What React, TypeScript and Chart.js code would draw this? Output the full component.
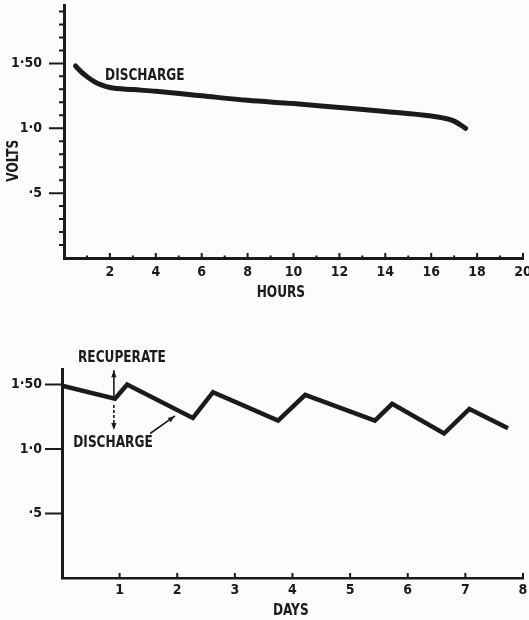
import React, { useEffect, useRef } from 'react';
import { Chart, registerables } from 'chart.js';

Chart.register(...registerables);

// ---------- data ----------
const HOURS = [0.5, 0.75, 1, 1.3, 1.6, 2, 3, 4, 6, 8, 10, 12, 14, 16, 16.5, 17, 17.5];
const DISCHARGE_VOLTS = [1.48, 1.435, 1.398, 1.362, 1.336, 1.314, 1.298, 1.285, 1.25, 1.215, 1.19, 1.16, 1.13, 1.095, 1.08, 1.055, 1.0];
const HOUR_TICKS = [2, 4, 6, 8, 10, 12, 14, 16, 18, 20];
const HOUR_MINOR_TICKS = [1, 3, 5, 7, 9, 11, 13, 15, 17, 19];
const VOLT_TICKS = [0.5, 1.0, 1.5];
const VOLT_TICK_LABELS = ['·5', '1·0', '1·50'];
const VOLT_MINOR_TICKS = [0.1, 0.2, 0.3, 0.4, 0.6, 0.7, 0.8, 0.9, 1.1, 1.2, 1.3, 1.4, 1.6, 1.7, 1.8, 1.9];

const DAYS = [0, 0.92, 1.13, 2.27, 2.62, 3.75, 4.22, 5.43, 5.73, 6.63, 7.07, 7.74];
const CYCLE_VOLTS = [1.49, 1.39, 1.5, 1.24, 1.44, 1.22, 1.42, 1.22, 1.35, 1.12, 1.31, 1.16];
const DAY_TICKS = [1, 2, 3, 4, 5, 6, 7, 8];

const INK = '#1b1b1b';
const BG = '#fcfcfc';
const FONT_FAMILY = '"DejaVu Sans Condensed", "DejaVu Sans", sans-serif';
const TICK_FONT = { family: FONT_FAMILY, size: 14, weight: 'bold' as const };

function voltLabel(v: number) {
  const i = VOLT_TICKS.findIndex((t) => Math.abs(t - v) < 1e-6);
  return i >= 0 ? VOLT_TICK_LABELS[i] : '';
}

function arrow(ctx: CanvasRenderingContext2D, x1: number, y1: number, x2: number, y2: number, dashed = false) {
  ctx.save();
  ctx.strokeStyle = INK;
  ctx.fillStyle = INK;
  ctx.lineWidth = 1.6;
  if (dashed) ctx.setLineDash([3, 2]);
  ctx.beginPath();
  ctx.moveTo(x1, y1);
  ctx.lineTo(x2, y2);
  ctx.stroke();
  ctx.setLineDash([]);
  const a = Math.atan2(y2 - y1, x2 - x1);
  const L = 7, W = 2.6;
  ctx.beginPath();
  ctx.moveTo(x2, y2);
  ctx.lineTo(x2 - L * Math.cos(a) + W * Math.sin(a), y2 - L * Math.sin(a) - W * Math.cos(a));
  ctx.lineTo(x2 - L * Math.cos(a) - W * Math.sin(a), y2 - L * Math.sin(a) + W * Math.cos(a));
  ctx.closePath();
  ctx.fill();
  ctx.restore();
}

function text(ctx: CanvasRenderingContext2D, s: string, x: number, y: number, size: number, align: CanvasTextAlign = 'center', rot = 0) {
  ctx.save();
  ctx.fillStyle = INK;
  ctx.font = `bold ${size}px ${FONT_FAMILY}`;
  ctx.textAlign = align;
  ctx.textBaseline = 'middle';
  ctx.translate(x, y);
  if (rot) ctx.rotate(rot);
  ctx.scale(0.9, 1);
  ctx.fillText(s, 0, 0);
  ctx.restore();
}

function tickMarks(ctx: CanvasRenderingContext2D, chart: any, opts: { xMajor: number[]; xMinor: number[]; yMajor: number[]; yMinor: number[]; yMajorLen: number; xMajorLen: number }) {
  const xs = chart.scales.x;
  const ys = chart.scales.y;
  const area = chart.chartArea;
  ctx.save();
  ctx.strokeStyle = INK;
  ctx.lineWidth = 2;
  ctx.beginPath();
  opts.xMajor.forEach((v) => {
    const px = xs.getPixelForValue(v);
    ctx.moveTo(px, area.bottom);
    ctx.lineTo(px, area.bottom - opts.xMajorLen);
  });
  opts.xMinor.forEach((v) => {
    const px = xs.getPixelForValue(v);
    ctx.moveTo(px, area.bottom);
    ctx.lineTo(px, area.bottom - 2.5);
  });
  opts.yMajor.forEach((v) => {
    const py = ys.getPixelForValue(v);
    ctx.moveTo(area.left, py);
    ctx.lineTo(area.left - opts.yMajorLen, py);
  });
  opts.yMinor.forEach((v) => {
    const py = ys.getPixelForValue(v);
    ctx.moveTo(area.left, py);
    ctx.lineTo(area.left - 5, py);
  });
  ctx.stroke();
  ctx.restore();
}

const topDecor = {
  id: 'topDecor',
  afterDraw(chart: any) {
    const ctx = chart.ctx as CanvasRenderingContext2D;
    const xs = chart.scales.x;
    const ys = chart.scales.y;
    tickMarks(ctx, chart, { xMajor: HOUR_TICKS, xMinor: HOUR_MINOR_TICKS, yMajor: VOLT_TICKS, yMinor: VOLT_MINOR_TICKS, yMajorLen: 15, xMajorLen: 5 });
    text(ctx, 'DISCHARGE', xs.getPixelForValue(1.79), ys.getPixelForValue(1.4), 15, 'left');
    text(ctx, 'VOLTS', 14, ys.getPixelForValue(0.75), 15, 'center', -Math.PI / 2);
    text(ctx, 'HOURS', xs.getPixelForValue(9.45), 293, 15);
  },
};

const bottomDecor = {
  id: 'bottomDecor',
  afterDraw(chart: any) {
    const ctx = chart.ctx as CanvasRenderingContext2D;
    const xs = chart.scales.x;
    const ys = chart.scales.y;
    tickMarks(ctx, chart, { xMajor: DAY_TICKS, xMinor: [], yMajor: VOLT_TICKS, yMinor: [], yMajorLen: 17, xMajorLen: 5 });
    const X = (v: number) => xs.getPixelForValue(v);
    const Y = (v: number) => ys.getPixelForValue(v);
    text(ctx, 'RECUPERATE', X(1.04), Y(1.705), 15);
    arrow(ctx, X(0.9), Y(1.40), X(0.9), Y(1.61));
    arrow(ctx, X(0.9), Y(1.34), X(0.9), Y(1.147), true);
    text(ctx, 'DISCHARGE', X(0.885), Y(1.047), 15);
    arrow(ctx, X(1.53), Y(1.12), X(1.96), Y(1.256));
    text(ctx, 'DAYS', X(3.97), 301, 15);
  },
};

function zeroPad(s: any) {
  s.paddingTop = 0;
  s.paddingBottom = 0;
  s.paddingLeft = 0;
  s.paddingRight = 0;
}

function baseOptions(o: { xMax: number; yMax: number; xTicks: number[]; padTop: number; padRight: number; yWidth: number; xHeight: number; yLabelPad: number; xLabelPad: number; yBorder: number; xBorder: number }) {
  return {
    responsive: false,
    animation: false as const,
    events: [],
    layout: { padding: { left: 0, right: o.padRight, top: o.padTop, bottom: 0 }, autoPadding: false },
    plugins: { legend: { display: false }, tooltip: { enabled: false } },
    scales: {
      x: {
        type: 'linear' as const,
        min: 0,
        max: o.xMax,
        afterBuildTicks: (s: any) => { s.ticks = o.xTicks.map((v) => ({ value: v })); },
        afterFit: (s: any) => { s.height = o.xHeight; zeroPad(s); },
        grid: { display: true, drawOnChartArea: false, drawTicks: false, color: INK },
        border: { display: true, color: INK, width: o.xBorder },
        ticks: { color: INK, font: TICK_FONT, padding: o.xLabelPad, maxRotation: 0, autoSkip: false, callback: (v: any) => String(v) },
      },
      y: {
        type: 'linear' as const,
        min: 0,
        max: o.yMax,
        afterBuildTicks: (s: any) => { s.ticks = VOLT_TICKS.map((v) => ({ value: v })); },
        afterFit: (s: any) => { s.width = o.yWidth; zeroPad(s); },
        grid: { display: true, drawOnChartArea: false, drawTicks: false, color: INK },
        border: { display: true, color: INK, width: o.yBorder },
        ticks: { color: INK, font: TICK_FONT, padding: o.yLabelPad, autoSkip: false, callback: (v: any) => voltLabel(Number(v)) },
      },
    },
  };
}

export default function App() {
  const topRef = useRef<HTMLCanvasElement>(null);
  const botRef = useRef<HTMLCanvasElement>(null);

  useEffect(() => {
    const top = new Chart(topRef.current!, {
      type: 'line',
      data: {
        datasets: [{
          data: HOURS.map((h, i) => ({ x: h, y: DISCHARGE_VOLTS[i] })),
          borderColor: INK,
          borderWidth: 5,
          pointRadius: 0,
          cubicInterpolationMode: 'monotone',
          borderCapStyle: 'round',
          fill: false,
        }],
      },
      options: baseOptions({ xMax: 20, yMax: 1.95, xTicks: HOUR_TICKS, padTop: 5, padRight: 6, yWidth: 64, xHeight: 52, yLabelPad: 22, xLabelPad: 6, yBorder: 3, xBorder: 3 }) as any,
      plugins: [topDecor],
    });
    const bottom = new Chart(botRef.current!, {
      type: 'line',
      data: {
        datasets: [{
          data: DAYS.map((d, i) => ({ x: d, y: CYCLE_VOLTS[i] })),
          borderColor: INK,
          borderWidth: 4.5,
          pointRadius: 0,
          tension: 0,
          borderJoinStyle: 'miter',
          fill: false,
        }],
      },
      options: baseOptions({ xMax: 8, yMax: 1.62, xTicks: DAY_TICKS, padTop: 59, padRight: 6, yWidth: 62, xHeight: 42, yLabelPad: 20, xLabelPad: 4, yBorder: 3, xBorder: 2.5 }) as any,
      plugins: [bottomDecor],
    });
    return () => { top.destroy(); bottom.destroy(); };
  }, []);

  return (
    <div style={{ position: 'fixed', left: 0, top: 0, width: 529, height: 620, background: BG }}>
      <canvas ref={topRef} width={529} height={310} style={{ position: 'absolute', left: 0, top: 0 }} />
      <canvas ref={botRef} width={529} height={310} style={{ position: 'absolute', left: 0, top: 310 }} />
    </div>
  );
}
